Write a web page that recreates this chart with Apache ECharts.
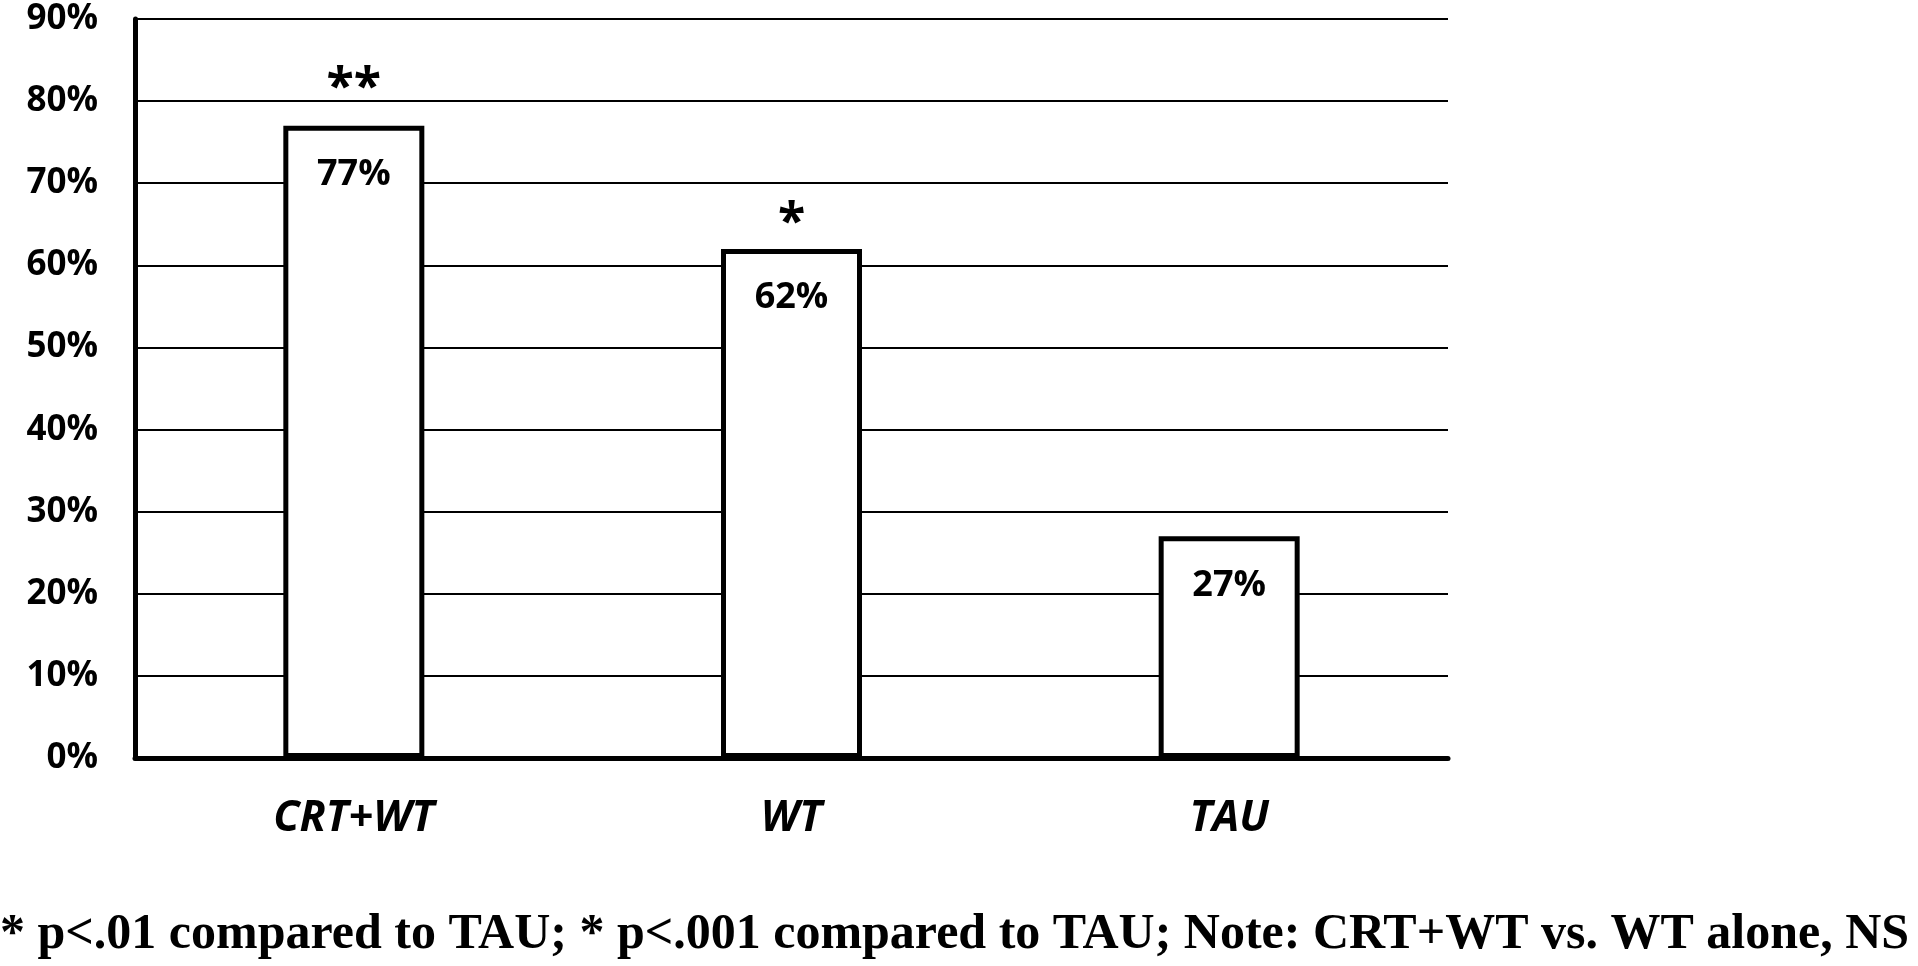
<!DOCTYPE html>
<html>
<head>
<meta charset="utf-8">
<title>Chart</title>
<script src="https://cdn.jsdelivr.net/npm/echarts@6/dist/echarts.min.js"></script>
<style>
    html, body { margin: 0; padding: 0; background: #fff; }
    #main { width: 1918px; height: 966px; }
</style>
</head>
<body>
<div id="main"></div>
<script>
const categories = ['CRT+WT', 'WT', 'TAU']
const values = [77, 62, 27]
const stars = ['**', '*', '']
const yTicks = [0, 90, 10]   // min, max, interval
const note = '* p<.01 compared to TAU; * p<.001 compared to TAU; Note: CRT+WT vs. WT alone, NS'

const sansBold = {
    fontFamily: '"Open Sans", "DejaVu Sans", sans-serif',
    fontWeight: 'bold',
    color: '#000'
}

// the star marks don't sit at the same height above every bar
const starGap = [12, 0, 0]

const myChart = echarts.init(document.getElementById('main'))
myChart.setOption({
    animation: false,
    grid: {
        left: 135,
        right: 470,
        top: 19,
        bottom: 208
    },
    xAxis: {
        type: 'category',
        data: categories,
        axisLine: { lineStyle: { color: '#000', width: 5 } },
        axisTick: { show: false },
        axisLabel: Object.assign({}, sansBold, {
            fontSize: 43,
            fontStyle: 'italic',
            margin: 39
        })
    },
    yAxis: {
        type: 'value',
        min: yTicks[0],
        max: yTicks[1],
        interval: yTicks[2],
        axisLine: { show: true, lineStyle: { color: '#000', width: 5 } },
        axisTick: { show: false },
        splitLine: { lineStyle: { color: '#000', width: 2 } },
        axisLabel: Object.assign({}, sansBold, {
            fontSize: 35,
            margin: 37,
            formatter: '{value}%'
        })
    },
    series: [
        {
            type: 'bar',
            data: values,
            barWidth: 141,
            itemStyle: { color: '#fff', borderColor: '#000', borderWidth: 5 },
            label: Object.assign({}, sansBold, {
                show: true,
                position: 'insideTop',
                distance: 31,
                fontSize: 36,
                formatter: '{c}%'
            })
        },
        {
            // significance markers sitting above the bars
            type: 'bar',
            data: values.map(function (v, i) {
                return { value: v, label: { distance: starGap[i] } }
            }),
            barWidth: 141,
            barGap: '-100%',
            silent: true,
            itemStyle: { color: 'transparent' },
            label: Object.assign({}, sansBold, {
                show: true,
                position: 'top',
                fontSize: 50,
                formatter: function (p) { return stars[p.dataIndex] }
            })
        }
    ],
    graphic: [
        {
            type: 'text',
            left: 0,
            top: 910,
            style: {
                text: note,
                font: 'bold 50px "Liberation Serif", "Times New Roman", serif',
                fill: '#000'
            }
        }
    ]
})
</script>
</body>
</html>
